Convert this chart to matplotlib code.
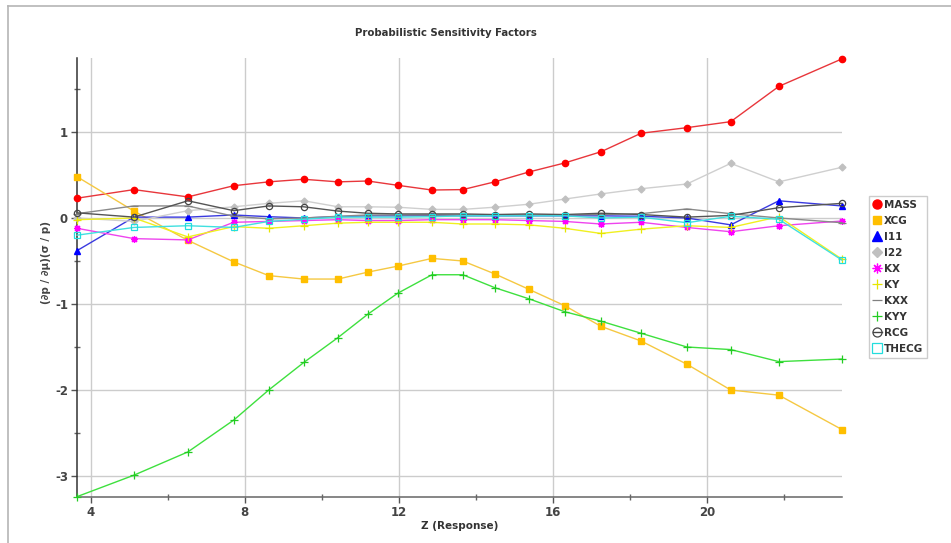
import matplotlib
matplotlib.use("Agg")
import matplotlib.pyplot as plt
from matplotlib.lines import Line2D
from matplotlib.ticker import MultipleLocator

# ---- data ----
z = [3.64, 5.12, 6.52, 7.71, 8.62, 9.53, 10.42, 11.19, 11.97, 12.86,
     13.66, 14.49, 15.38, 16.31, 17.25, 18.29, 19.48, 20.62, 21.87, 23.51]

mass = [0.23, 0.33, 0.245, 0.375, 0.42, 0.45, 0.42, 0.43, 0.38, 0.325,
        0.33, 0.42, 0.535, 0.64, 0.77, 0.985, 1.05, 1.12, 1.53, 1.85]
xcg = [0.48, 0.08, -0.26, -0.51, -0.67, -0.71, -0.71, -0.63, -0.56, -0.47,
       -0.50, -0.65, -0.83, -1.02, -1.26, -1.43, -1.70, -2.00, -2.06, -2.46]
i11 = [-0.38, 0.01, 0.01, 0.035, 0.015, 0.0, 0.015, 0.025, 0.025, 0.03,
       0.025, 0.025, 0.025, 0.025, 0.025, 0.02, 0.0, -0.08, 0.20, 0.14]
i22 = [0.0, -0.04, 0.085, 0.13, 0.17, 0.20, 0.13, 0.13, 0.125, 0.10,
       0.10, 0.125, 0.16, 0.22, 0.28, 0.34, 0.395, 0.635, 0.42, 0.59]
kx = [-0.12, -0.24, -0.255, -0.05, -0.04, -0.03, -0.02, -0.03, -0.03, -0.02,
      -0.02, -0.02, -0.03, -0.04, -0.07, -0.05, -0.11, -0.16, -0.09, -0.035]
ky = [-0.02, 0.0, -0.22, -0.10, -0.12, -0.09, -0.06, -0.05, -0.05, -0.05,
      -0.07, -0.07, -0.08, -0.12, -0.18, -0.13, -0.09, -0.11, 0.015, -0.48]
kxx = [0.05, 0.14, 0.14, 0.02, -0.01, 0.0, 0.02, 0.035, 0.035, 0.035,
       0.035, 0.035, 0.035, 0.035, 0.04, 0.05, 0.105, 0.05, 0.0, -0.055]
kyy = [-3.24, -2.99, -2.72, -2.35, -2.00, -1.68, -1.39, -1.12, -0.875, -0.66,
       -0.66, -0.81, -0.94, -1.09, -1.20, -1.34, -1.50, -1.53, -1.67, -1.64]
rcg = [0.06, 0.01, 0.20, 0.085, 0.14, 0.13, 0.08, 0.055, 0.047, 0.047,
       0.047, 0.04, 0.047, 0.04, 0.055, 0.04, 0.01, 0.03, 0.12, 0.17]
thecg = [-0.20, -0.11, -0.09, -0.11, -0.04, -0.015, 0.01, 0.01, 0.01, 0.015,
         0.025, 0.025, 0.025, 0.025, 0.0, 0.01, -0.055, 0.02, -0.015, -0.49]

x_ticks = [4, 8, 12, 16, 20]
y_ticks = [-3, -2, -1, 0, 1]

W, H = 951, 543
fig = plt.figure(figsize=(W / 100, H / 100), dpi=100)
fig.patch.set_facecolor("white")

def fx(px):
    return px / W

def fy(py):
    return 1 - py / H

ax = fig.add_axes([fx(77), fy(497), fx(842) - fx(77), fy(58) - fy(497)])
ax.set_xlim(3.64, 23.51)
ax.set_ylim(-3.244, 1.86)

series = [
    ("MASS", mass, dict(color="#e8363b", marker="o", mfc="#ff0000", mec="#ff0000", ms=4.5)),
    ("XCG", xcg, dict(color="#f5c842", marker="s", mfc="#ffbf00", mec="#ffbf00", ms=4)),
    ("I11", i11, dict(color="#3a3ae0", marker="^", mfc="#0000ff", mec="#0000ff", ms=4.5)),
    ("I22", i22, dict(color="#cfcfcf", marker="D", mfc="#c0c0c0", mec="#c0c0c0", ms=3.5)),
    ("KX", kx, dict(color="#ee44ee", marker=(8, 2, 0), mfc="#ff00ff", mec="#ff00ff", ms=5, mew=0.9)),
    ("KY", ky, dict(color="#f0f020", marker="+", mfc="#eeee00", mec="#e6e600", ms=5.5, mew=0.9)),
    ("KXX", kxx, dict(color="#8a8a8a", marker="_", mfc="#808080", mec="#808080", ms=5.5, mew=0.9)),
    ("KYY", kyy, dict(color="#3ee03e", marker="+", mfc="#22cc22", mec="#22cc22", ms=5.5, mew=0.9)),
    ("RCG", rcg, dict(color="#555555", marker="o", mfc="none", mec="#444444", ms=4.5, mew=0.9)),
    ("THECG", thecg, dict(color="#40e0e0", marker="s", mfc="none", mec="#22dddd", ms=4.5, mew=0.9)),
]

for name, vals, st in series:
    ax.plot(z, vals, lw=1.0, label=name, zorder=3, clip_on=False, **st)

# axes style
for s in ["top", "right"]:
    ax.spines[s].set_visible(False)
ax.spines["left"].set_color("#333333")
ax.spines["bottom"].set_color("#666666")
ax.spines["left"].set_linewidth(1.1)
ax.spines["bottom"].set_linewidth(1.1)

ax.set_xticks(x_ticks)
ax.set_yticks(y_ticks)
ax.set_xticklabels([str(v) for v in x_ticks])
ax.set_yticklabels([str(v) if v >= 0 else "-" + str(-v) for v in y_ticks])
ax.xaxis.set_minor_locator(MultipleLocator(2))
ax.yaxis.set_minor_locator(MultipleLocator(0.5))
ax.tick_params(which="major", direction="out", length=4, width=1, color="#555555",
               labelsize=8.5, labelcolor="#444444", pad=2.5)
ax.tick_params(which="minor", direction="inout", length=5, width=1, color="#666666")
for lab in ax.get_xticklabels() + ax.get_yticklabels():
    lab.set_fontweight("bold")

ax.grid(True, which="major", color="#cccccc", lw=1.0, zorder=0)
ax.set_axisbelow(True)

ax.set_xlabel("Z (Response)", fontsize=7.5, fontweight="bold", color="#333333", labelpad=1.5)
fig.text(fx(46), fy(262), "(\u2202p / \u2202\u03bc)(\u03c3 / p)", rotation=90,
         ha="center", va="center", fontsize=7.5, fontweight="bold", color="#444444")

fig.text(fx(446), fy(33), "Probabilistic Sensitivity Factors", ha="center", va="center",
         fontsize=7.3, fontweight="bold", color="#333333")

# panel border lines (top and left)
fig.add_artist(Line2D([fx(8), 1.0], [fy(6), fy(6)], color="#b5b5b5", lw=1.2))
fig.add_artist(Line2D([fx(8), fx(8)], [fy(6), 0.0], color="#b5b5b5", lw=1.2))

# legend
handles = []
for name, vals, st in series:
    ls = "-" if name == "RCG" else "none"
    h = Line2D([], [], linestyle=ls, color=st["mec"] if name == "RCG" else st["color"],
               marker=st["marker"], mfc=st["mfc"], mec=st["mec"],
               ms=st["ms"] + 2, mew=st.get("mew", 1), lw=1)
    handles.append(h)
leg = fig.legend(handles, [n for n, _, _ in series], loc="upper left",
                 bbox_to_anchor=(fx(869), fy(196)), frameon=True, fancybox=False,
                 edgecolor="#cccccc", framealpha=1, handlelength=0.9, handletextpad=0.2,
                 labelspacing=0.58, borderpad=0.35, borderaxespad=0,
                 prop=dict(size=7.5, weight="bold"))
for t in leg.get_texts():
    t.set_color("#333333")
leg.get_frame().set_linewidth(1.0)

fig.savefig("out.png", dpi=100, facecolor="white")
